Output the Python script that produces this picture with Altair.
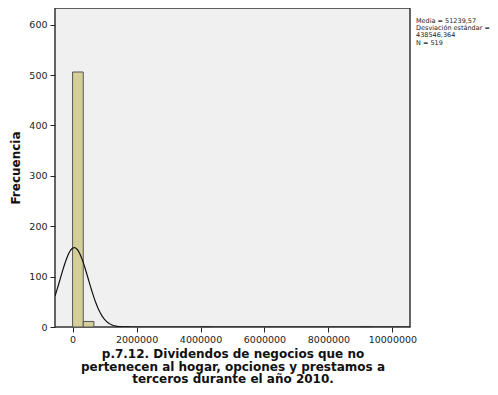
import altair as alt
import numpy as np
import pandas as pd

# Histogram bins
bin_start = [0, 333333, 4000000, 9000000]
bin_end = [333333, 666667, 4333333, 9333333]
counts = [506, 11, 1, 1]

# Stated statistics
mean_val = 51239.57
sd_val = 438546.364
n_val = 519
bin_width = 333333

x_ticks = [0, 2000000, 4000000, 6000000, 8000000, 10000000]
y_ticks = [0, 100, 200, 300, 400, 500, 600]

bars = pd.DataFrame({"x0": bin_start, "x1": bin_end, "count": counts})

# Normal curve defined by the stated mean, SD and N
xs = np.linspace(-550000, 10550000, 400)
ys = n_val * bin_width / (sd_val * np.sqrt(2 * np.pi)) * np.exp(-0.5 * ((xs - mean_val) / sd_val) ** 2)
curve = pd.DataFrame({"x": xs, "y": ys})

xscale = alt.Scale(domain=[-550000, 10550000], nice=False, zero=False)
yscale = alt.Scale(domain=[0, 633], nice=False)

x_axis = alt.Axis(
    values=x_ticks, format="d", labelFont="DejaVu Sans", labelFontSize=9.5,
    labelColor="#222", tickColor="#222", tickSize=5, domain=False, grid=False,
    title=["p.7.12. Dividendos de negocios que no",
           "pertenecen al hogar, opciones y prestamos a",
           "terceros durante el año 2010."],
    titleFont="DejaVu Sans", titleFontSize=12, titleFontWeight="bold",
    titleColor="#111", titlePadding=5, titleLineHeight=12.5, labelPadding=2,
)
y_axis = alt.Axis(
    values=y_ticks, labelFont="DejaVu Sans", labelFontSize=9.5,
    labelColor="#222", tickColor="#222", tickSize=5, domain=False, grid=False,
    title="Frecuencia", titleFont="DejaVu Sans", titleFontSize=12,
    titleFontWeight="bold", titleColor="#111", titlePadding=6, labelPadding=3,
)

rects = alt.Chart(bars).mark_rect(
    fill="#d4cf98", stroke="#555", strokeWidth=1
).encode(
    x=alt.X("x0:Q", scale=xscale, axis=x_axis),
    x2="x1:Q",
    y=alt.Y("count:Q", scale=yscale, axis=y_axis),
    y2=alt.datum(0),
)

line = alt.Chart(curve).mark_line(color="#111", strokeWidth=1.2, clip=True).encode(
    x=alt.X("x:Q", scale=xscale),
    y=alt.Y("y:Q", scale=yscale),
)

stats_lines = ["Media = 51239,57", "Desviación estándar =", "438546,364", "N = 519"]
stats = alt.Chart(pd.DataFrame({"t": [stats_lines]})).mark_text(
    align="left", baseline="top", font="DejaVu Sans", fontSize=6.5, lineHeight=7.2,
    color="#222",
).encode(
    text="t:N", x=alt.value(361), y=alt.value(10),
)

chart = alt.layer(rects, line, stats).properties(
    width=355, height=319,
    autosize=alt.AutoSizeParams(type="none"),
    padding={"left": 47, "top": 0, "right": 80, "bottom": 60},
    background="white",
).configure_view(
    fill="#f0f0f0", stroke="#333", strokeWidth=1.5
)

chart.save("out.html", embed_options={"renderer": "svg", "actions": False})
